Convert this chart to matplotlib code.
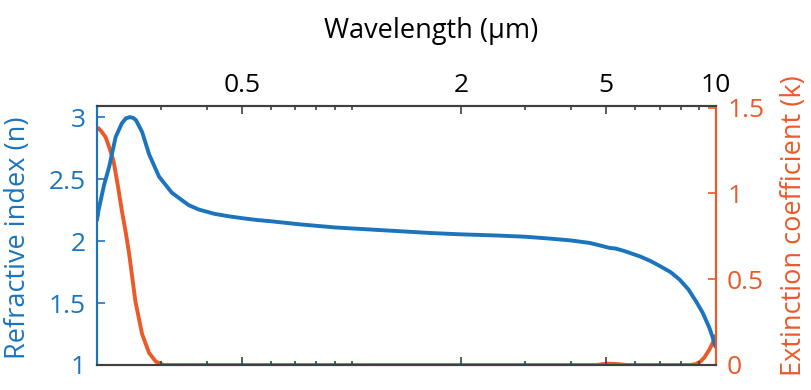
import numpy as np
import matplotlib.pyplot as plt
from matplotlib.ticker import FixedLocator, NullFormatter

plt.rcParams['font.family'] = ['Open Sans', 'DejaVu Sans']

# refractive index n
wl_n = [0.2, 0.202, 0.209, 0.216, 0.225, 0.234, 0.240, 0.246, 0.251, 0.256, 0.266, 0.278,
        0.296, 0.321, 0.357, 0.38, 0.42, 0.46, 0.5, 0.55, 0.6, 0.72, 0.9, 1.1, 1.35, 1.65, 1.97,
        2.5, 3.0, 3.5, 4.0, 4.5, 4.8, 5.1, 5.3, 5.6, 6.2, 6.6, 7.0, 7.5, 7.94, 8.4,
        8.83, 9.2, 9.59, 9.8, 9.96]
n_val = [2.17, 2.25, 2.45, 2.6, 2.84, 2.95, 2.99, 3.0, 2.995, 2.975, 2.88, 2.7,
         2.52, 2.39, 2.29, 2.255, 2.22, 2.2, 2.185, 2.17, 2.16, 2.135, 2.11, 2.095, 2.08, 2.065, 2.055,
         2.045, 2.035, 2.02, 2.005, 1.985, 1.965, 1.945, 1.94, 1.92, 1.875, 1.84, 1.8, 1.75, 1.69, 1.61,
         1.51, 1.42, 1.3, 1.22, 1.15]

# extinction coefficient k
wl_k = [0.2, 0.202, 0.206, 0.211, 0.216, 0.222, 0.228, 0.234, 0.240, 0.245, 0.255,
        0.266, 0.278, 0.290, 0.305, 0.4, 1.0, 3.0, 4.7, 5.0, 5.3, 5.7, 7.0, 8.5,
        8.8, 9.06, 9.3, 9.59, 9.8, 9.96]
k_val = [1.38, 1.38, 1.36, 1.33, 1.27, 1.19, 1.05, 0.9, 0.77, 0.65, 0.37,
         0.18, 0.07, 0.02, 0.0, 0.0, 0.0, 0.0, 0.0, 0.008, 0.006, 0.0, 0.0, 0.0,
         0.005, 0.02, 0.045, 0.09, 0.13, 0.17]

major_ticks = [0.5, 2, 5, 10]
minor_ticks = [0.2, 0.3, 0.4, 0.6, 0.7, 0.8, 0.9, 1, 3, 4, 6, 7, 8, 9]

blue = '#1c74bc'
orange = '#eb5a2a'
grey = '#404040'

fig = plt.figure(figsize=(8.12, 3.90), dpi=100)
ax = fig.add_axes([97/812, 25/390, (716-97)/812, (365-106)/390])
ax2 = ax.twinx()

ax.plot(wl_n, n_val, color=blue, lw=2.8, solid_capstyle='round', solid_joinstyle='round')
ax2.plot(wl_k, k_val, color=orange, lw=2.8, solid_capstyle='round', solid_joinstyle='round')
ax.set_zorder(ax2.get_zorder() + 1)
ax.patch.set_visible(False)

ax.set_xscale('log')
ax.set_xlim(0.2, 10)
ax.set_ylim(1, 3.09)
ax2.set_ylim(0, 1.51)

ax.xaxis.set_major_locator(FixedLocator(major_ticks))
ax.xaxis.set_minor_locator(FixedLocator(minor_ticks))
ax.xaxis.set_minor_formatter(NullFormatter())
ax.set_xticklabels(['0.5', '2', '5', '10'])
ax.tick_params(axis='x', which='both', direction='in', top=True, bottom=True,
               labeltop=True, labelbottom=False, colors=grey, labelcolor='black',
               labelsize=19, pad=6)
ax.tick_params(axis='x', which='major', length=6, width=1.2)
ax.tick_params(axis='x', which='minor', length=3, width=1.2)

ax.set_yticks([1, 1.5, 2, 2.5, 3])
ax.set_yticklabels(['1', '1.5', '2', '2.5', '3'])
ax.tick_params(axis='y', direction='in', length=6, width=1.2, colors=blue,
               labelsize=19, pad=8)
ax2.set_yticks([0, 0.5, 1, 1.5])
ax2.set_yticklabels(['0', '0.5', '1', '1.5'])
ax2.tick_params(axis='y', direction='in', length=6, width=1.2, colors=orange,
                labelsize=19, pad=8)

for a in (ax, ax2):
    a.spines['top'].set_color(grey)
    a.spines['bottom'].set_color(grey)
    a.spines['left'].set_color(blue)
    a.spines['right'].set_color(orange)
    for s in a.spines.values():
        s.set_linewidth(1.5)

ax.set_xlabel('Wavelength (µm)', fontsize=19.5)
ax.xaxis.set_label_position('top')
ax.xaxis.set_label_coords(0.54, 1.262)
ax.set_ylabel('Refractive index (n)', fontsize=19.5, color=blue)
ax.yaxis.set_label_coords(-0.105, 0.49)
ax2.set_ylabel('Extinction coefficient (k)', fontsize=19.5, color=orange)
ax2.yaxis.set_label_coords(1.103, 0.537)

fig.savefig('out.png', dpi=100)
